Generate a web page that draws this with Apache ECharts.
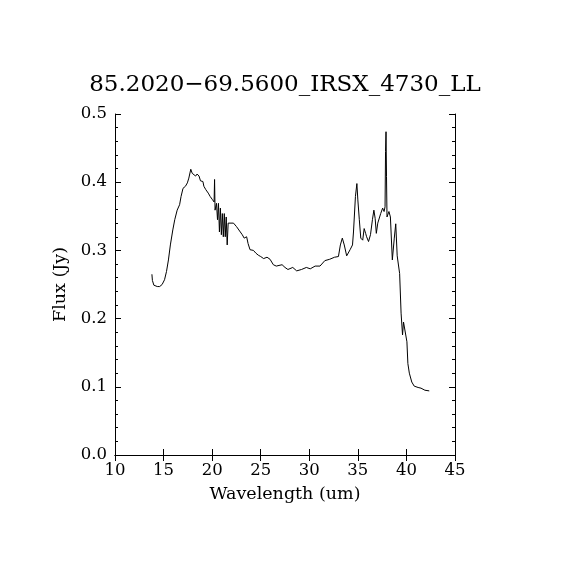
<!DOCTYPE html>
<html><head><meta charset="utf-8">
<script src="https://cdn.jsdelivr.net/npm/echarts@6/dist/echarts.min.js"></script>
<style>html,body{margin:0;padding:0;background:#fff}#c{width:570px;height:570px}</style>
</head><body><div id="c"></div>
<script>
const titleText = "85.2020\u221269.5600_IRSX_4730_LL";
const xTitle = "Wavelength (um)";
const yTitle = "Flux (Jy)";
const xTicks = [10, 15, 20, 25, 30, 35, 40, 45];
const yTicks = [0.0, 0.1, 0.2, 0.3, 0.4, 0.5];
const wavelength = [13.8,13.85,14.0,14.35,14.6,14.85,15.1,15.3,15.5,15.7,15.95,16.15,16.4,16.65,16.8,17.0,17.25,17.45,17.6,17.8,17.95,18.1,18.3,18.45,18.65,18.8,19.05,19.15,19.35,19.6,19.8,20.0,20.2,20.25,20.3,20.45,20.55,20.65,20.75,20.85,20.95,21.05,21.15,21.25,21.35,21.45,21.55,21.65,21.85,22.2,22.5,22.9,23.1,23.3,23.55,23.7,23.9,24.25,24.5,24.75,25.0,25.3,25.65,25.96,26.3,26.6,27.2,27.5,27.8,28.3,28.7,29.2,29.7,30.1,30.6,31.1,31.6,32.1,32.6,33.0,33.2,33.4,33.6,33.85,34.2,34.45,34.55,34.75,34.9,35.0,35.15,35.3,35.5,35.65,35.8,35.9,36.1,36.3,36.5,36.65,36.78,36.9,37.05,37.35,37.55,37.7,37.8,37.85,37.9,37.95,38.0,38.2,38.35,38.55,38.75,38.9,39.05,39.3,39.45,39.6,39.7,39.9,40.05,40.15,40.3,40.55,40.8,41.2,41.5,41.9,42.35];
const flux = [0.265,0.256,0.249,0.247,0.247,0.250,0.257,0.269,0.286,0.308,0.330,0.345,0.359,0.367,0.379,0.391,0.394,0.399,0.406,0.419,0.413,0.414,0.409,0.412,0.409,0.402,0.401,0.394,0.389,0.384,0.379,0.375,0.371,0.404,0.359,0.369,0.345,0.369,0.327,0.362,0.323,0.354,0.320,0.354,0.320,0.349,0.308,0.340,0.342,0.340,0.335,0.327,0.323,0.318,0.320,0.310,0.301,0.300,0.296,0.293,0.291,0.288,0.290,0.287,0.279,0.277,0.279,0.275,0.272,0.275,0.270,0.272,0.275,0.273,0.277,0.277,0.285,0.287,0.290,0.291,0.308,0.318,0.308,0.292,0.301,0.308,0.327,0.379,0.398,0.374,0.345,0.318,0.315,0.332,0.325,0.320,0.313,0.323,0.345,0.359,0.347,0.325,0.340,0.354,0.362,0.357,0.364,0.445,0.474,0.408,0.349,0.357,0.349,0.286,0.318,0.339,0.292,0.266,0.208,0.176,0.195,0.196,0.166,0.134,0.120,0.107,0.101,0.099,0.098,0.095,0.094];

const FONT = "DejaVu Serif";
const pts = wavelength.map((w, i) => [w, flux[i]]);
const xMin = xTicks[0], xMax = xTicks[xTicks.length - 1];
const yMin = yTicks[0], yMax = yTicks[yTicks.length - 1];
const axisLine = {show: true, lineStyle: {color: '#000', width: 1}};
const chart = echarts.init(document.getElementById('c'));
chart.setOption({
  animation: false,
  backgroundColor: '#fff',
  title: {text: titleText, left: 'center', top: 69,
    textStyle: {fontFamily: FONT, fontSize: 23, fontWeight: 'normal', color: '#000'}},
  grid: {left: 115, right: 115, top: 114, bottom: 115, containLabel: false},
  xAxis: [
    {type: 'value', min: xMin, max: xMax, interval: 5, position: 'bottom',
     name: xTitle, nameLocation: 'middle', nameGap: 30,
     nameTextStyle: {fontFamily: FONT, fontSize: 17.5, color: '#000'},
     axisLine: axisLine, axisTick: {inside: true, length: 6, lineStyle: {color: '#000'}},
     axisLabel: {fontFamily: FONT, fontSize: 16.5, color: '#000', margin: 7},
     splitLine: {show: false}},
    {type: 'value', min: xMin, max: xMax, interval: 5, position: 'top',
     axisLine: axisLine, axisTick: {inside: true, length: 6, lineStyle: {color: '#000'}},
     axisLabel: {show: false}, splitLine: {show: false}}
  ],
  yAxis: [
    {type: 'value', min: yMin, max: yMax, interval: 0.1, position: 'left',
     name: yTitle, nameLocation: 'middle', nameGap: 46, nameRotate: 90,
     nameTextStyle: {fontFamily: FONT, fontSize: 17.5, color: '#000'},
     axisLine: axisLine, axisTick: {inside: true, length: 6, lineStyle: {color: '#000'}},
     minorTick: {show: true, splitNumber: 5, length: 3, lineStyle: {color: '#000'}},
     axisLabel: {fontFamily: FONT, fontSize: 16.5, color: '#000', margin: 8,
       formatter: v => v.toFixed(1)},
     splitLine: {show: false}},
    {type: 'value', min: yMin, max: yMax, interval: 0.1, position: 'right',
     axisLine: axisLine, axisTick: {inside: true, length: 6, lineStyle: {color: '#000'}},
     minorTick: {show: true, splitNumber: 5, length: 3, lineStyle: {color: '#000'}},
     axisLabel: {show: false}, splitLine: {show: false}}
  ],
  series: [{type: 'line', data: pts, xAxisIndex: 0, yAxisIndex: 0,
    showSymbol: false, lineStyle: {color: '#000', width: 1}}]
});
</script></body></html>
